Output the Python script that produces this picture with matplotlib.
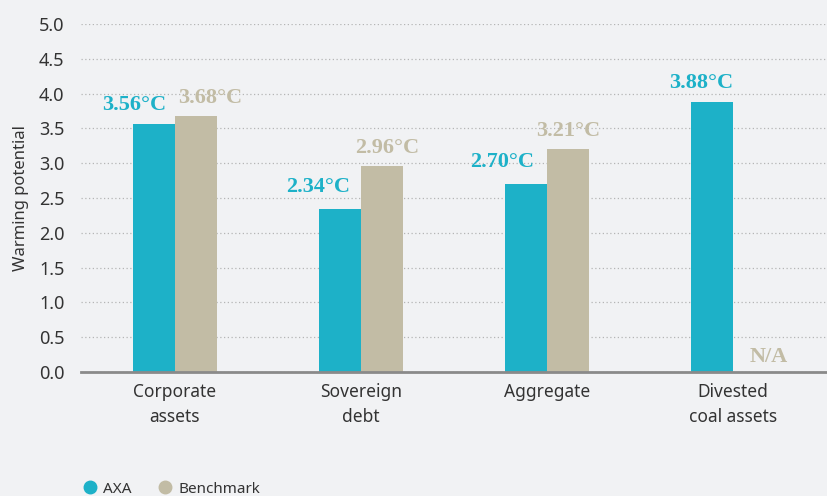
import numpy as np
import matplotlib.pyplot as plt
from matplotlib.lines import Line2D

# Chart data
categories = ['Corporate\nassets', 'Sovereign\ndebt', 'Aggregate', 'Divested\ncoal assets']
axa_values = [3.56, 2.34, 2.70, 3.88]
benchmark_values = [3.68, 2.96, 3.21, None]
axa_labels = ['3.56°C', '2.34°C', '2.70°C', '3.88°C']
benchmark_labels = ['3.68°C', '2.96°C', '3.21°C', 'N/A']
y_ticks = [0.0, 0.5, 1.0, 1.5, 2.0, 2.5, 3.0, 3.5, 4.0, 4.5, 5.0]

axa_color = '#1db1c8'
bench_color = '#c2bca5'
bg_color = '#f1f2f4'
text_color = '#333333'

plt.rcParams['font.family'] = ['Noto Sans', 'DejaVu Sans']

fig = plt.figure(figsize=(8.27, 4.96), dpi=100, facecolor=bg_color)
ax = fig.add_axes([0.098, 0.25, 0.902, 0.7016], facecolor=bg_color)

x = np.arange(len(categories))
width = 0.226

ax.bar(x - width / 2, axa_values, width, color=axa_color, zorder=3)
bench_heights = [v if v is not None else 0 for v in benchmark_values]
ax.bar(x + width / 2, bench_heights, width, color=bench_color, zorder=3)

# value labels (horizontal nudges in points)
axa_dx = [-14, -16, -17, -8]
bench_dx = [10, 4, 0, 0]
label_font = dict(family=['Liberation Serif', 'DejaVu Serif'], fontsize=16, fontweight='bold')
for i, (v, lab) in enumerate(zip(axa_values, axa_labels)):
    dy = 12 if v < 3 else 10
    ax.annotate(lab, (x[i] - width / 2, v), xytext=(axa_dx[i], dy),
                textcoords='offset points', ha='center', va='baseline',
                color=axa_color, **label_font)
for i, (v, lab) in enumerate(zip(benchmark_values, benchmark_labels)):
    yv = v if v is not None else 0
    dy = 9 if v is not None else 7
    ax.annotate(lab, (x[i] + width / 2 + (0.08 if v is None else 0), yv),
                xytext=(bench_dx[i], dy), textcoords='offset points',
                ha='center', va='baseline', color=bench_color, **label_font)

ax.set_xlim(-0.505, 3.505)
ax.set_ylim(0, 5.0)
ax.set_yticks(y_ticks)
ax.set_yticklabels([f'{t:.1f}' for t in y_ticks])
ax.set_xticks(x)
ax.set_xticklabels(categories, linespacing=1.5)
ax.tick_params(axis='y', length=0, pad=12, labelsize=13, labelcolor=text_color)
ax.tick_params(axis='x', length=0, pad=8, labelsize=12.5, labelcolor=text_color)

ax.grid(axis='y', linestyle=(0, (1, 2)), color='#b5b5b5', linewidth=0.9, zorder=0)
for s in ['top', 'right', 'left']:
    ax.spines[s].set_visible(False)
ax.spines['bottom'].set_color('#8a8a8a')
ax.spines['bottom'].set_linewidth(2)
ax.spines['bottom'].set_zorder(4)

ax.set_ylabel('Warming potential', fontsize=12, color=text_color)
ax.yaxis.set_label_coords(-0.07, 0.5)

handles = [
    Line2D([], [], marker='o', linestyle='', markersize=9, color=axa_color),
    Line2D([], [], marker='o', linestyle='', markersize=9, color=bench_color),
]
fig.legend(handles, ['AXA', 'Benchmark'], loc='lower left', bbox_to_anchor=(0.0986, -0.003),
           ncol=2, frameon=False, fontsize=11, handlelength=1, handletextpad=0.35,
           columnspacing=1.7, borderpad=0.05, borderaxespad=0, labelcolor=text_color)

fig.savefig('out.png', dpi=100, facecolor=bg_color)
